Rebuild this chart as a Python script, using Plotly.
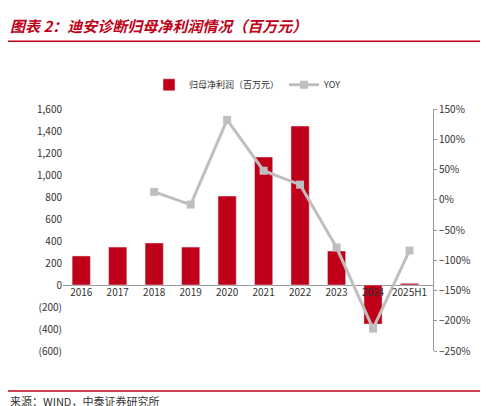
import plotly.graph_objects as go

years = ["2016", "2017", "2018", "2019", "2020", "2021", "2022", "2023", "2024", "2025H1"]
profit = [264, 345, 382, 345, 809, 1164, 1445, 309, -355, 15]
yoy_years = ["2018", "2019", "2020", "2021", "2022", "2023", "2024", "2025H1"]
yoy = [13, -8, 132, 48, 25, -79, -213, -84]

red = "#c00018"
grey = "#bfbfbf"
font = "Noto Sans CJK SC"

fig = go.Figure()
fig.add_trace(go.Bar(x=years, y=profit, name="归母净利润（百万元）", marker_color=red, width=0.5))
fig.add_trace(go.Scatter(x=yoy_years, y=yoy, name="YOY", yaxis="y2", mode="lines+markers",
                         line=dict(color=grey, width=3), marker=dict(symbol="square", size=8, color=grey)))

fig.update_layout(
    width=488, height=406, plot_bgcolor="white", paper_bgcolor="white",
    font=dict(family=font, size=10, color="#333"),
    margin=dict(l=55, r=63, t=101, b=63),
    showlegend=True,
    legend=dict(orientation="h", x=0.5, xanchor="center", y=1.1, yanchor="middle", font=dict(size=9)),
    xaxis=dict(type="category", showline=False, ticks="", anchor="free", position=600 / 2200,
               tickfont=dict(size=10)),
    yaxis=dict(range=[-600, 1600], showgrid=False, zeroline=True,
               zerolinecolor="#999", zerolinewidth=1,
               tickvals=[-600, -400, -200, 0, 200, 400, 600, 800, 1000, 1200, 1400, 1600],
               ticktext=["(600)", "(400)", "(200)", "0", "200", "400", "600", "800", "1,000", "1,200", "1,400", "1,600"]),
    yaxis2=dict(overlaying="y", side="right", range=[-250, 150], dtick=50, ticksuffix="%",
                showgrid=False, zeroline=False, showline=True, linecolor="#999", ticks="outside",
                tickcolor="#999", ticklen=3),
)
fig.add_annotation(text="<b><i>图表 2：迪安诊断归母净利润情况（百万元）</i></b>", xref="paper", yref="paper",
                   x=-0.15, y=1.343, xanchor="left", yanchor="middle", showarrow=False,
                   font=dict(size=15, color=red, family=font))
fig.add_shape(type="line", xref="paper", yref="paper", x0=-0.15, x1=1.17, y0=1.28, y1=1.28,
              line=dict(color=red, width=1.5))
fig.add_shape(type="line", xref="paper", yref="paper", x0=-0.15, x1=1.17, y0=-0.165, y1=-0.165,
              line=dict(color=red, width=1.5))
fig.add_annotation(text="来源：WIND，中泰证券研究所", xref="paper", yref="paper", x=-0.15, y=-0.207,
                   xanchor="left", yanchor="middle", showarrow=False, font=dict(size=11, color="#333"))

fig.write_html("out.html")
